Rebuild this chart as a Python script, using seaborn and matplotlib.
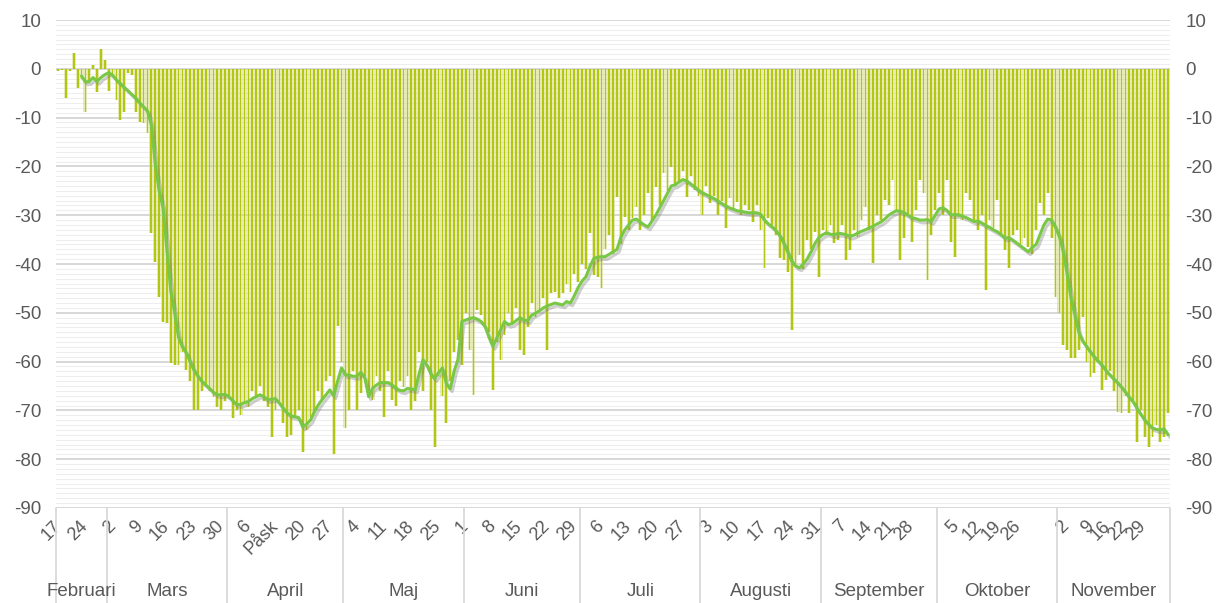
import numpy as np
import pandas as pd
import seaborn as sns
import matplotlib.pyplot as plt
import matplotlib.patheffects as pe
import matplotlib.transforms as mtransforms
from matplotlib.ticker import MultipleLocator

# daily values, 17 Feb - 29 Nov
start_date = '2020-02-17'
bar_vals = [
    -0.5, -0.3, -6.0, -0.5, 3.3, -4.0, -2.0, -8.8, -2.5, 0.8,
    -4.7, 4.1, 1.8, -4.5, -1.2, -6.4, -10.5, -8.8, -0.8, -1.2,
    -8.8, -10.8, -11.1, -13.1, -33.6, -39.5, -46.7, -51.8, -52.0, -60.3,
    -60.7, -60.7, -58.0, -61.7, -64.0, -69.9, -69.9, -66.0, -65.0, -66.0,
    -67.2, -69.3, -69.9, -68.0, -67.0, -71.5, -70.0, -70.9, -68.0, -69.3,
    -66.0, -67.4, -65.0, -68.0, -69.3, -75.4, -69.9, -68.0, -72.5, -75.4,
    -75.0, -71.3, -70.0, -78.5, -74.0, -71.3, -70.5, -66.0, -67.8, -64.0,
    -63.0, -79.0, -52.8, -60.0, -73.6, -70.0, -62.0, -70.0, -66.4, -63.0,
    -66.0, -67.8, -63.0, -66.0, -71.3, -62.0, -67.8, -69.0, -64.0, -65.2,
    -63.0, -70.0, -68.0, -58.0, -66.0, -60.0, -70.0, -77.5, -63.0, -67.0,
    -72.5, -64.0, -58.0, -55.5, -60.7, -50.0, -57.6, -66.8, -49.4, -50.5,
    -52.9, -54.0, -65.8, -56.0, -59.6, -54.5, -50.0, -52.0, -49.0, -57.6,
    -58.6, -52.9, -48.0, -50.8, -49.8, -47.0, -57.6, -46.0, -45.7, -47.0,
    -46.0, -44.0, -45.7, -42.0, -43.6, -40.0, -41.0, -33.6, -42.2, -42.6,
    -44.9, -37.0, -34.0, -38.0, -26.2, -36.0, -30.3, -33.0, -30.5, -28.3,
    -33.0, -30.0, -25.4, -31.0, -24.2, -28.0, -21.3, -25.0, -20.1, -24.0,
    -23.4, -21.0, -26.2, -22.0, -24.8, -26.0, -29.9, -24.0, -27.5, -26.0,
    -29.9, -27.0, -32.6, -26.4, -29.0, -27.3, -30.0, -28.0, -29.0, -31.4,
    -28.0, -33.0, -40.8, -30.5, -32.0, -34.0, -38.7, -39.1, -41.6, -53.5,
    -40.0, -38.1, -41.0, -35.0, -37.0, -33.4, -42.6, -33.0, -34.0, -32.0,
    -35.7, -35.0, -32.0, -39.1, -37.1, -33.0, -34.4, -31.0, -28.3, -33.0,
    -39.8, -30.0, -31.0, -26.8, -28.0, -22.7, -29.0, -39.1, -34.6, -30.0,
    -35.5, -29.0, -22.7, -25.4, -43.2, -34.0, -29.0, -25.4, -30.0, -22.7,
    -35.5, -38.5, -30.3, -31.0, -25.4, -26.8, -31.0, -33.0, -30.0, -45.3,
    -31.0, -32.6, -26.8, -34.0, -37.1, -40.8, -34.0, -33.0, -36.0, -34.6,
    -36.5, -38.0, -33.0, -27.5, -30.0, -25.4, -34.6, -46.7, -50.0, -56.6,
    -57.6, -59.2, -59.2, -57.6, -50.8, -60.0, -63.1, -62.3, -60.0, -65.8,
    -63.7, -62.0, -66.0, -70.3, -70.5, -67.0, -70.5, -68.0, -76.4, -69.9,
    -75.4, -77.5, -75.4, -73.0, -76.4, -75.4, -70.5,
]

# smoothed line, starts 23 Feb
avg_start = '2020-02-23'
avg_vals = [
    -1.5, -2.7, -2.6, -1.8, -2.6, -1.8, -1.2, -0.8, -1.3, -2.3,
    -3.0, -3.8, -4.5, -5.3, -6.0, -7.0, -7.8, -8.6, -11.5, -19.5,
    -25.0, -28.5, -37.0, -45.5, -50.0, -55.0, -57.0, -58.2, -60.0, -61.8,
    -63.0, -64.0, -64.8, -65.5, -66.3, -66.8, -66.8, -66.7, -67.2, -68.0,
    -68.8, -68.8, -68.4, -68.2, -67.6, -67.2, -66.8, -67.2, -67.8, -67.7,
    -67.6, -68.5, -69.6, -70.5, -71.1, -71.3, -71.5, -73.4, -72.8, -72.0,
    -70.3, -68.9, -67.8, -66.8, -65.8, -67.0, -64.0, -61.3, -62.7, -62.8,
    -63.0, -63.0, -62.2, -63.3, -67.2, -65.5, -64.8, -64.3, -64.3, -64.3,
    -64.8, -65.4, -65.9, -66.0, -65.5, -65.6, -65.8, -62.5, -59.6, -60.7,
    -62.5, -63.5, -62.3, -61.3, -64.5, -65.6, -62.0, -59.6, -51.8, -51.5,
    -51.2, -51.0, -51.3, -51.8, -52.8, -55.0, -56.9, -55.2, -53.5, -51.8,
    -52.4, -52.2, -51.6, -51.0, -51.5, -51.6, -50.5, -50.1, -49.6, -49.0,
    -48.6, -48.3, -48.0, -48.2, -48.4, -47.7, -48.0, -46.5, -44.8, -43.5,
    -42.6, -40.5, -38.9, -38.6, -38.5, -38.5, -38.0, -37.5, -37.0, -34.5,
    -33.0, -32.0, -31.0, -30.8, -31.4, -32.0, -32.4, -31.2, -30.0, -28.5,
    -27.0, -25.5, -24.0, -23.8, -23.2, -22.7, -23.0, -23.6, -24.2, -24.9,
    -25.4, -25.8, -26.2, -26.6, -27.1, -27.6, -28.1, -28.5, -28.8, -29.1,
    -29.2, -29.4, -29.5, -29.5, -29.5, -29.8, -31.0, -31.8, -32.4, -33.2,
    -34.2, -35.8, -37.6, -39.4, -40.4, -40.8, -40.0, -39.0, -37.5, -35.8,
    -34.6, -34.0, -33.6, -33.9, -34.0, -33.7, -33.8, -34.0, -34.3, -34.1,
    -33.7, -33.3, -33.0, -32.6, -32.3, -31.8, -31.4, -30.8, -30.0, -29.5,
    -29.1, -29.2, -29.5, -30.0, -30.5, -30.7, -31.0, -31.0, -30.9, -31.3,
    -30.0, -28.7, -28.5, -29.0, -29.9, -29.9, -29.9, -30.2, -30.5, -30.9,
    -31.3, -31.2, -31.6, -32.1, -32.5, -33.0, -33.4, -34.0, -34.7, -34.6,
    -35.1, -35.7, -36.3, -36.9, -37.5, -36.6, -36.0, -34.0, -32.0, -30.8,
    -31.0, -32.5, -34.4, -37.5, -42.0, -47.0, -50.5, -54.0, -55.8, -56.9,
    -58.0, -59.0, -59.9, -60.7, -61.8, -62.7, -63.5, -64.3, -65.2, -66.2,
    -67.3, -68.2, -69.6, -70.8, -72.0, -72.8, -73.6, -73.9, -74.0, -73.8,
    -75.0,
]

tick_labels = ['17', '24', '2', '9', '16', '23', '30', '6', 'Påsk', '20', '27',
               '4', '11', '18', '25', '1', '8', '15', '22', '29', '6', '13', '20', '27',
               '3', '10', '17', '24', '31', '7', '14', '21', '28', '5', '12', '19', '26',
               '2', '9', '16', '22', '29']
# where the labels sit (day number from 17 Feb)
tick_pos = [0, 7, 14, 21, 28, 35, 42, 49, 56, 63, 70,
            77, 84, 91, 98, 105, 112, 119, 126, 133, 140, 147, 154, 161,
            168, 175, 182, 189, 196, 202.4, 209.1, 214.8, 219.9, 231.5, 237.5, 242.4, 247.3,
            259.6, 266.1, 270.4, 274.9, 279.6]
month_names = ['Februari', 'Mars', 'April', 'Maj', 'Juni', 'Juli', 'Augusti',
               'September', 'Oktober', 'November']

days = pd.date_range(start_date, periods=len(bar_vals), freq='D')
df = pd.DataFrame({'day': np.arange(len(days)), 'value': bar_vals})
avg_days = pd.date_range(avg_start, periods=len(avg_vals), freq='D')
df_avg = pd.DataFrame({'day': (avg_days - days[0]).days, 'value': avg_vals})

sns.set_theme(style='white')
plt.rcParams['font.family'] = ['Liberation Sans', 'DejaVu Sans']
plt.rcParams['axes.unicode_minus'] = False
txt_col = '#595959'

fig = plt.figure(figsize=(12.18, 6.03), dpi=100)
ax = fig.add_axes([56.3 / 1218, 1 - 508 / 603, (1170 - 56.3) / 1218, 488 / 603])

# pale wide bars + darker thin bars
ax.bar(df['day'], df['value'], width=1.0, color='#d0da70', alpha=0.5, linewidth=0, zorder=2)
sns.barplot(data=df, x='day', y='value', native_scale=True, width=0.45,
            color='#adc200', saturation=1, errorbar=None, linewidth=0, alpha=0.9, ax=ax, zorder=3)

sns.lineplot(data=df_avg, x='day', y='value', color='#78c846', linewidth=2.2, ax=ax, zorder=5,
             path_effects=[pe.SimpleLineShadow(offset=(1.5, -2), shadow_color='#777777', alpha=0.35),
                           pe.Normal()])

ax.set_ylim(-90, 10)
ax.set_xlim(-0.5, len(bar_vals) - 0.5)
ax.yaxis.set_major_locator(MultipleLocator(10))
ax.yaxis.set_minor_locator(MultipleLocator(1))
ax.grid(which='major', axis='y', color='#d4d4d4', linewidth=1.3, zorder=0)
ax.grid(which='minor', axis='y', color='#eeeeee', linewidth=0.8, zorder=0)
ax.grid(False, axis='x')
ax.set_axisbelow(True)
for s in ax.spines.values():
    s.set_visible(False)
ax.set_xlabel('')
ax.set_ylabel('')

ax.tick_params(axis='y', which='both', length=0, labelsize=13.5, labelcolor=txt_col,
               labelleft=True, labelright=True, pad=11)

ax.set_xticks(tick_pos, tick_labels)
ax.tick_params(axis='x', length=0, labelsize=13, labelcolor=txt_col, pad=11)
for lbl in ax.get_xticklabels():
    lbl.set_rotation(45)
    lbl.set_ha('right')
    lbl.set_va('center')
    lbl.set_rotation_mode('anchor')

# month separators and names under the day labels
trans = mtransforms.blended_transform_factory(ax.transData, ax.transAxes)
month_start = list(df['day'][days.day == 1])
edges = [-0.5] + [m - 0.5 for m in month_start] + [len(bar_vals) - 0.5]
for e in edges:
    ax.plot([e, e], [0, -0.2], transform=trans, color='#d9d9d9', linewidth=1.3, clip_on=False)
for name, a, b in zip(month_names, edges[:-1], edges[1:]):
    ax.text((a + b) / 2, -0.172, name, transform=trans, ha='center', va='center',
            fontsize=13.5, color=txt_col)

fig.savefig('out.png', dpi=100)
